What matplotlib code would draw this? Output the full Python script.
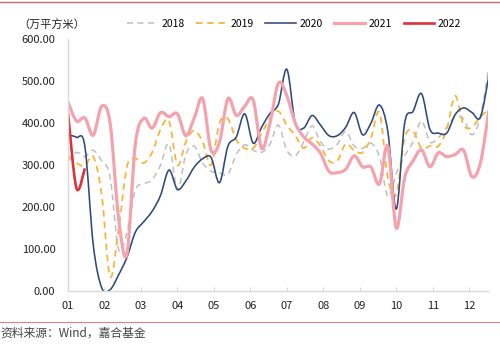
import numpy as np
import matplotlib
matplotlib.use("Agg")
import matplotlib.pyplot as plt
from matplotlib.path import Path
from matplotlib.patches import PathPatch
from matplotlib.lines import Line2D

plt.rcParams['font.family'] = ['Noto Sans CJK SC', 'DejaVu Sans']

# weekly sales area, 万平方米
months = ['01', '02', '03', '04', '05', '06', '07', '08', '09', '10', '11', '12']
weeks_per_month = 52 / 12
years = ['2018', '2019', '2020', '2021', '2022']

s2018 = [308, 330, 320, 335, 310, 272, 100, 140, 240, 255,
         265, 300, 350, 240, 325, 345, 305, 285, 282, 278,
         325, 348, 335, 330, 350, 395, 335, 322, 355, 393,
         355, 338, 350, 380, 345, 340, 352, 320, 225, 280,
         322, 355, 405, 355, 365, 390, 415, 410, 372, 415,
         535]
s2019 = [322, 305, 298, 320, 230, 34, 145, 296, 315, 305,
         330, 385, 405, 300, 355, 382, 355, 300, 400, 410,
         360, 340, 340, 375, 412, 428, 395, 370, 340, 365,
         345, 310, 310, 350, 335, 330, 365, 425, 270, 230,
         365, 380, 340, 345, 345, 385, 465, 395, 390, 415,
         432]
s2020 = [371, 366, 345, 110, 8, 3, 38, 80, 140, 165,
         190, 228, 288, 242, 262, 295, 315, 318, 258, 345,
         367, 422, 352, 390, 423, 445, 528, 400, 388, 418,
         395, 370, 370, 390, 425, 372, 400, 443, 380, 195,
         400, 428, 470, 385, 376, 376, 420, 436, 425, 414,
         512]
s2021 = [450, 405, 412, 371, 440, 400, 175, 88, 350, 411,
         388, 425, 415, 422, 370, 412, 458, 335, 355, 458,
         418, 440, 455, 340, 400, 495, 465, 400, 367, 350,
         328, 285, 282, 290, 322, 296, 295, 255, 345, 150,
         270, 310, 336, 296, 329, 320, 325, 335, 272, 305,
         430]
s2022 = [425, 245, 292]

series = [s2018, s2019, s2020, s2021, s2022]
colors = ['#BFBFBF', '#F7B53B', '#2F4A7A', '#F4A3AE', '#E0313B']
widths = [1.1, 1.3, 1.15, 2.3, 1.9]
styles = [(0, (4.0, 2.8)), (0, (3.6, 2.6)), '-', '-', '-']


def smooth_path(ys):
    # cubic bezier through every point, excel-style smoothed line
    pts = np.column_stack([np.arange(len(ys)), ys]).astype(float)
    n = len(pts)
    verts = [pts[0]]
    codes = [Path.MOVETO]
    for i in range(n - 1):
        p0 = pts[i - 1] if i > 0 else pts[i]
        p1 = pts[i]
        p2 = pts[i + 1]
        p3 = pts[i + 2] if i + 2 < n else pts[i + 1]
        verts += [p1 + (p2 - p0) / 6, p2 - (p3 - p1) / 6, p2]
        codes += [Path.CURVE4] * 3
    return Path(verts, codes)


fig = plt.figure(figsize=(5, 3.48), dpi=100)
ax = fig.add_axes([0.136, 0.1638, 0.84, 0.724])

for ys, c, lw, ls in zip(series, colors, widths, styles):
    patch = PathPatch(smooth_path(ys), facecolor='none', edgecolor=c,
                      linewidth=lw, linestyle=ls, capstyle='butt',
                      joinstyle='round')
    ax.add_patch(patch)

ax.set_xlim(0, 49.9)
ax.set_ylim(0, 600)
ax.set_xticks([i * weeks_per_month for i in range(12)])
ax.set_xticklabels(months)
ax.set_yticks(range(0, 601, 100))
ax.set_yticklabels(['%.2f' % v for v in range(0, 601, 100)])
ax.tick_params(axis='x', direction='in', length=3, width=0.8,
               color='#D9D9D9', labelsize=8, pad=7, labelcolor='#222222')
ax.tick_params(axis='y', length=0, labelsize=8, pad=9, labelcolor='#222222')
for side in ['top', 'right']:
    ax.spines[side].set_visible(False)
for side in ['left', 'bottom']:
    ax.spines[side].set_color('#D9D9D9')
    ax.spines[side].set_linewidth(1.0)

handles = [Line2D([], [], color=c, linewidth=lw, linestyle=ls)
           for c, lw, ls in zip(colors, widths, styles)]
fig.legend(handles, years, loc='center', bbox_to_anchor=(0.588, 0.931),
           ncol=5, frameon=False, fontsize=7.5, handlelength=2.9,
           handletextpad=0.35, columnspacing=1.15, borderpad=0)

fig.text(0.036, 0.931, '（万平方米）', fontsize=8, color='#222222',
         ha='left', va='center')
fig.text(0.0, 0.043, '资料来源：Wind，嘉合基金', fontsize=8.5, color='#444444',
         ha='left', va='center')

# red rules above the chart and above the source note
fig.add_artist(Line2D([0, 1], [0.995, 0.995], color='#C9696B', linewidth=1.0))
fig.add_artist(Line2D([0, 1], [0.075, 0.075], color='#D98587', linewidth=0.8))

fig.savefig('out.png', dpi=100, facecolor='white')
